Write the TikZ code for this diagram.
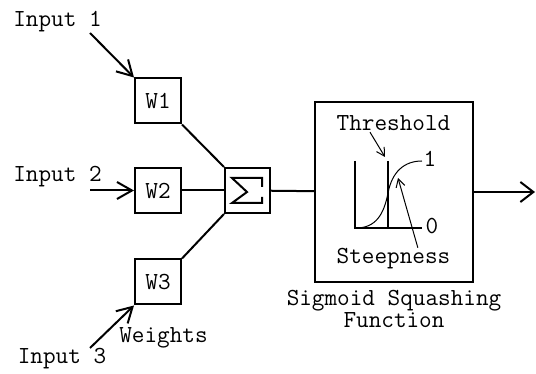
\documentclass[tikz,border=0pt]{standalone}
\usetikzlibrary{arrows.meta}

\begin{document}
\begin{tikzpicture}[x=1pt,y=-1pt,line width=2pt,
  lbl/.style={font=\ttfamily\fontsize{24.5}{22}\selectfont,inner sep=0pt},
  wbox/.style={lbl,draw,minimum width=46pt,minimum height=45pt},
  arr/.style={-{Straight Barb[length=15pt,width=17pt]}},
  thin/.style={line width=1pt}]
\useasboundingbox (0,0) rectangle (536,374);
% inputs and weights
\node[lbl,anchor=base] (in1) at (57.5,27) {Input 1};
\node[lbl,anchor=base] (in2) at (57.5,182) {Input 2};
\node[lbl,anchor=base] (in3) at (62,363) {Input 3};
\node[wbox] (w1) at (158,101) {W1};
\node[wbox] (w2) at (158,190.5) {W2};
\node[wbox] (w3) at (158,282) {W3};
\node[lbl,anchor=base] (wts) at (163.5,342) {Weights};
\coordinate (s1) at (90,33); \coordinate (s2) at (90,190.5); \coordinate (s3) at (90,348);
\draw[arr] (s1) -- (w1.north west);
\draw[arr] (s2) -- (w2.west);
\draw[arr] (s3) -- (w3.south west);
% summation
\node[draw,minimum size=45pt] (sum) at (247.5,190.5) {};
\draw[shift={(sum.center)}] (14.5,-3.5) -- (14.5,-12.5) -- (-15.5,-12.5) -- (-0.5,1.5) -- (-15.5,12.5) -- (14.5,12.5) -- (14.5,6.5);
\draw (w1.south east) -- (sum.north west);
\draw (w2) -- (sum);
\draw (w3.north east) -- (sum.south west);
% sigmoid
\node[draw,minimum width=158pt,minimum height=180pt] (sig) at (394,192) {};
\draw (sum) -- (sig);
\coordinate (out) at (535,192);
\draw[-{Straight Barb[length=13pt,width=20pt]}] (sig.east |- out) -- (out);
\draw (355,161) -- (355,228) -- (422,228);
\draw (388,161) -- (388,228);
\draw[thin] (356,228) .. controls (376,228) and (384,214) .. (388,193)
  .. controls (392,172) and (404,161) .. (422,161);
\node[lbl,anchor=base] (one) at (430,167) {1};
\node[lbl,anchor=base] (zero) at (432,234) {0};
\node[lbl,anchor=base] (thr) at (393.5,131) {Threshold};
\node[lbl,anchor=base] (steep) at (393.5,264) {Steepness};
\coordinate (thrtip) at (385,157); \coordinate (steeptip) at (398,178);
\draw[thin,-{Straight Barb[length=8pt,width=9pt]}] (thr.200) -- (thrtip);
\draw[thin,-{Straight Barb[length=8pt,width=9pt]}] (steep.25) -- (steeptip);
\node[lbl,align=center,anchor=north] (name) at (394,289) {Sigmoid Squashing\\Function};
\end{tikzpicture}
\end{document}
